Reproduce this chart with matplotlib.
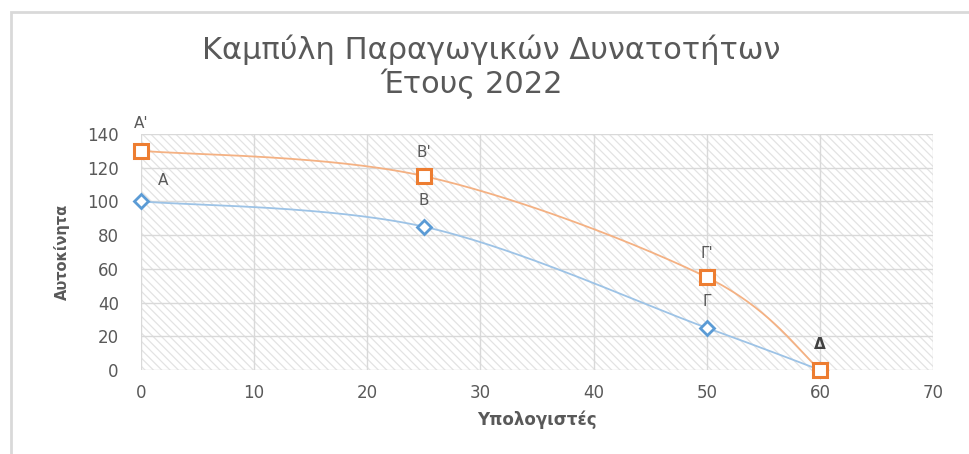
import numpy as np
import matplotlib.pyplot as plt
from matplotlib.patches import Rectangle

# Data
computers = [0, 25, 50, 60]
cars_2022 = [100, 85, 25, 0]
cars_new = [130, 115, 55, 0]
labels_2022 = ["A", "B", "Γ", ""]
labels_new = ["A'", "B'", "Γ'", "Δ"]

x_ticks = [0, 10, 20, 30, 40, 50, 60, 70]
y_ticks = [0, 20, 40, 60, 80, 100, 120, 140]

grey = "#595959"
blue = "#5b9bd5"
orange = "#ed7d31"

plt.rcParams['font.family'] = ['DejaVu Sans']
plt.rcParams['hatch.color'] = '#c4c4c4'
plt.rcParams['hatch.linewidth'] = 0.9


def smooth(xs, ys, n=60):
    """ Catmull-Rom style smoothing like excel smoothed lines """
    xs = np.array(xs, dtype=float)
    ys = np.array(ys, dtype=float)
    px = np.concatenate([[xs[0]], xs, [xs[-1]]])
    py = np.concatenate([[ys[0]], ys, [ys[-1]]])
    out_x = []
    out_y = []
    t = np.linspace(0, 1, n)
    for i in range(1, len(px) - 2):
        p0 = np.array([px[i], py[i]])
        p3 = np.array([px[i + 1], py[i + 1]])
        c1 = p0 + (np.array([px[i + 1], py[i + 1]]) - np.array([px[i - 1], py[i - 1]])) / 6
        c2 = p3 - (np.array([px[i + 2], py[i + 2]]) - np.array([px[i], py[i]])) / 6
        bx = (1 - t)**3 * p0[0] + 3 * (1 - t)**2 * t * c1[0] + 3 * (1 - t) * t**2 * c2[0] + t**3 * p3[0]
        by = (1 - t)**3 * p0[1] + 3 * (1 - t)**2 * t * c1[1] + 3 * (1 - t) * t**2 * c2[1] + t**3 * p3[1]
        out_x.extend(bx)
        out_y.extend(by)
    return out_x, out_y


fig = plt.figure(figsize=(9.69, 4.54), dpi=100)
ax = fig.add_axes([0.1455, 0.185, 0.8175, 0.52])

# outer border of the screenshot
fig.patches.append(Rectangle((11 / 969, -0.1), 1.2, 1.1 - 12 / 454, transform=fig.transFigure,
                             fill=False, edgecolor='#d9d9d9', linewidth=2))

ax.set_xlim(0, 70)
ax.set_ylim(0, 140)
ax.add_patch(Rectangle((0, 0), 70, 140, facecolor='white', edgecolor='#e3e3e3',
                       hatch='\\\\\\\\', linewidth=0, zorder=0))
ax.set_xticks(x_ticks)
ax.set_yticks(y_ticks)
ax.grid(True, color='#d9d9d9', linewidth=1, zorder=1)
for s in ax.spines.values():
    s.set_visible(False)
ax.tick_params(length=0, labelsize=12, labelcolor=grey)
ax.tick_params(axis='x', pad=10)
ax.tick_params(axis='y', pad=16)

sx, sy = smooth(computers, cars_2022)
ax.plot(sx, sy, color='#9dc3e6', linewidth=1.3, zorder=3, clip_on=False)
ax.plot(computers, cars_2022, linestyle='none', marker='D', markersize=7,
        markerfacecolor='white', markeredgecolor=blue, markeredgewidth=2, zorder=4, clip_on=False)

sx, sy = smooth(computers, cars_new)
ax.plot(sx, sy, color='#f4b183', linewidth=1.3, zorder=3, clip_on=False)
ax.plot(computers, cars_new, linestyle='none', marker='s', markersize=10,
        markerfacecolor='white', markeredgecolor=orange, markeredgewidth=2.2, zorder=5, clip_on=False)

# point labels (offsets in points)
off_2022 = [(16, 15), (0, 18.7), (0, 18.7), (0, 0)]
off_new = [(0, 19.4), (0, 17.3), (0, 17.3), (0, 18.7)]
for i in range(len(computers)):
    if labels_2022[i]:
        ax.annotate(labels_2022[i], (computers[i], cars_2022[i]), xytext=off_2022[i],
                    textcoords='offset points', ha='center', va='center',
                    fontsize=11, color=grey, annotation_clip=False)
    ax.annotate(labels_new[i], (computers[i], cars_new[i]), xytext=off_new[i],
                textcoords='offset points', ha='center', va='center',
                fontsize=11, color='#404040' if i == 3 else grey,
                fontweight='bold' if i == 3 else 'normal', annotation_clip=False)

fig.text(491 / 969, 1 - 59 / 454, "Καμπύλη Παραγωγικών Δυνατοτήτων", ha='center', va='baseline',
         fontsize=22, color=grey)
fig.text(472 / 969, 1 - 93 / 454, "Έτους 2022", ha='center', va='baseline', fontsize=22, color=grey)

ax.set_xlabel("Υπολογιστές", fontsize=12, fontweight='bold', color=grey, labelpad=6)
ax.set_ylabel("Αυτοκίνητα", fontsize=10.5, fontweight='bold', color=grey, labelpad=12)

fig.savefig("out.png", dpi=100)
